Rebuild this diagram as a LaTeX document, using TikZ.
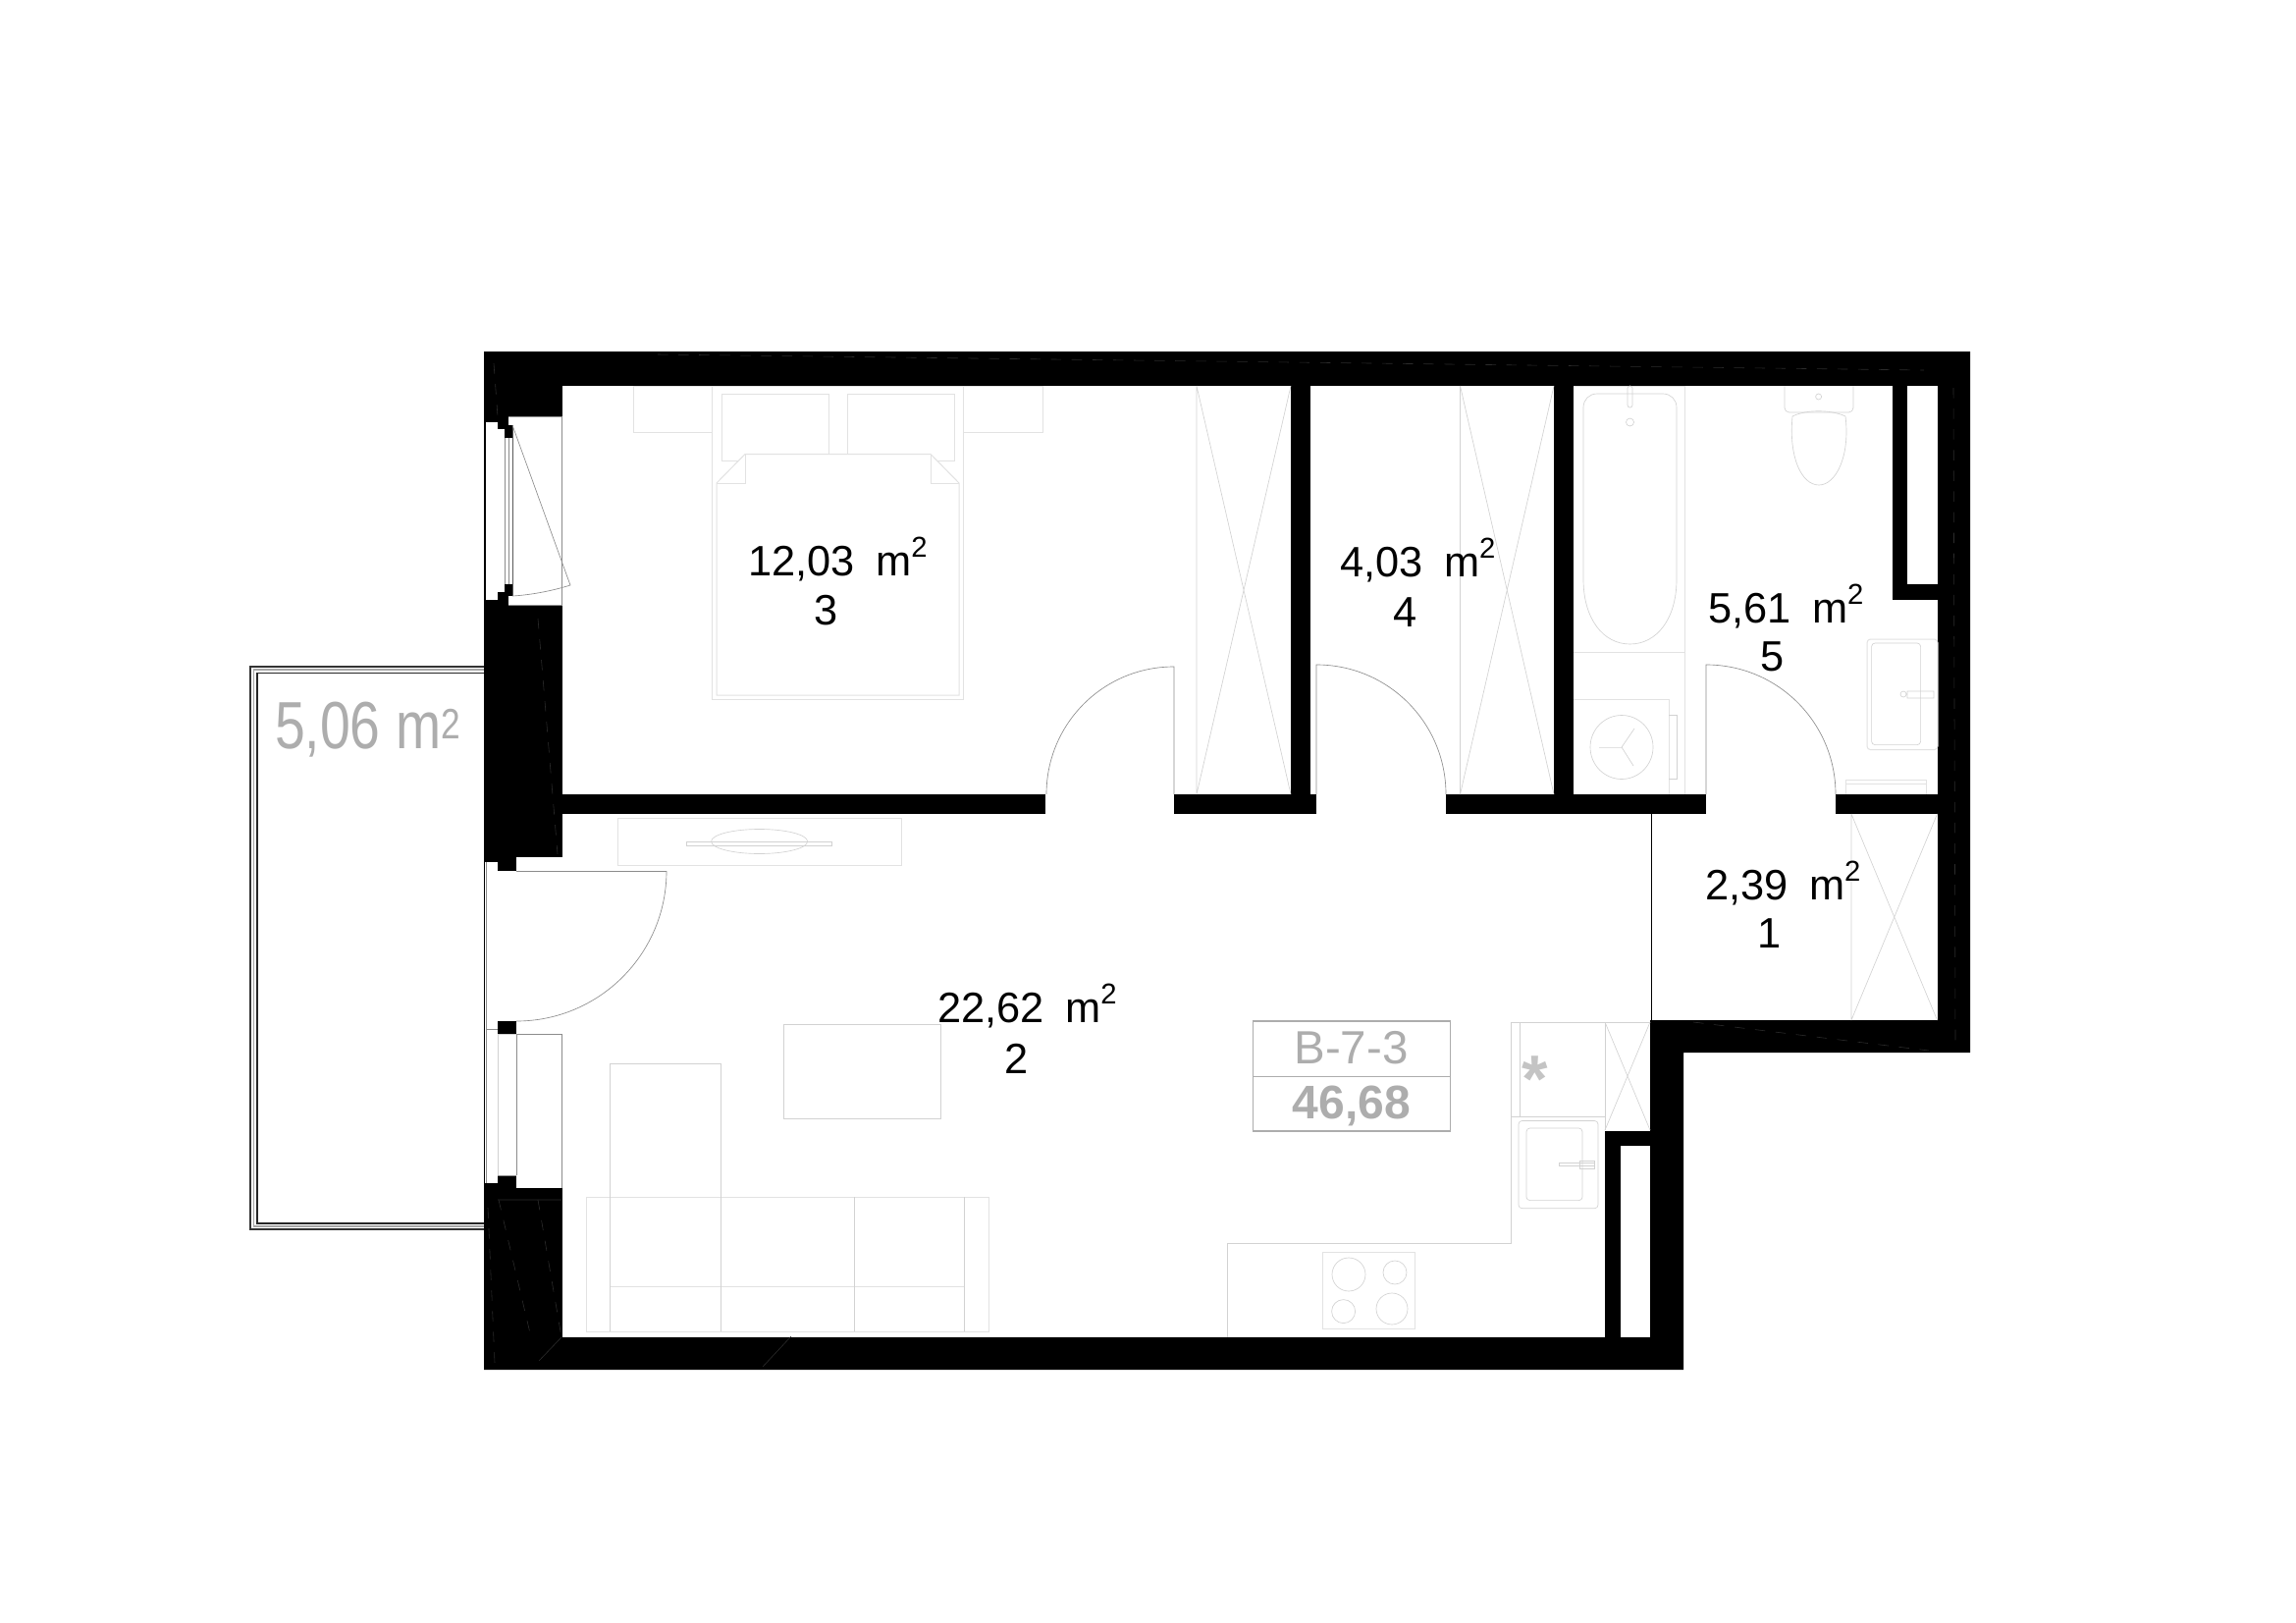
\documentclass[tikz,border=0pt]{standalone}
\usepackage{fontspec}
\usepackage{graphicx}
\setmainfont{Liberation Sans}
\definecolor{labelgrey}{HTML}{ADADAD}
\definecolor{starcol}{HTML}{C4C4C4}
\definecolor{furn}{HTML}{E2E2E2}
\definecolor{furnb}{HTML}{D2D2D2}
\definecolor{doorline}{HTML}{8C8C8C}
\definecolor{hair}{HTML}{2C2C2C}
\newcommand{\areatxt}[1]{\fontsize{37}{37}\selectfont #1\hspace{0.5em}m\raisebox{16pt}{\fontsize{25}{25}\selectfont 2}}
\tikzset{
  wall/.style={fill=black,draw=none},
  hole/.style={fill=white,draw=none},
  fitem/.style={draw=furn,line width=0.85pt,fill=none},
  fthin/.style={draw=furnb,line width=0.55pt,fill=none},
  door/.style={draw=doorline,line width=0.55pt,fill=none},
  hairline/.style={draw=hair,line width=0.5pt,dashed,dash pattern=on 9pt off 9pt},
  lbl/.style={inner sep=0pt,outer sep=0pt,text=black},
  num/.style={inner sep=0pt,outer sep=0pt,text=black,anchor=base,font=\fontsize{37}{37}\selectfont},
  glbl/.style={inner sep=0pt,outer sep=0pt,text=labelgrey},
}
\begin{document}
\begin{tikzpicture}[x=0.3mm,y=-0.3mm]
\useasboundingbox (0,0) rectangle (2339,1653);
\fill[white] (0,0) rectangle (2339,1653);

% balcony
\draw[draw=black!80,line width=1.5pt] (494,679) -- (255,679) -- (255,1252) -- (494,1252);
\draw[draw=black!35,line width=1.4pt] (494,682) -- (258.5,682) -- (258.5,1249) -- (494,1249);
\draw[draw=black!85,line width=0.9pt] (494,685.5) -- (262,685.5) -- (262,1246) -- (494,1246);

% walls
\fill[wall] (493,358) -- (2007,358) -- (2007,1072) -- (1715,1072) -- (1715,1395) -- (493,1395) -- cycle;
% interior cut-outs: rooms
\fill[hole] (573,393) rectangle (1315,809);
\fill[hole] (1335,393) rectangle (1583,809);
\fill[hole] (1603,393) rectangle (1974,809);
\fill[hole] (573,829) rectangle (1681,1362);
\fill[hole] (1681,829) rectangle (1974,1039);
% door openings
\fill[hole] (1065,800) rectangle (1196,835);
\fill[hole] (1341,800) rectangle (1473,835);
\fill[hole] (1738,800) rectangle (1870,835);
% west wall: bedroom window
\fill[hole] (518,424) rectangle (572.5,616);
\fill[hole] (495,430) rectangle (507,611);
\fill[hole] (507,437) rectangle (518,603);
\fill[wall] (514,433) rectangle (522,446);
\fill[wall] (514,595) rectangle (522,607);
\draw[door] (514,446) -- (514,595) (518,446) -- (518,595);
\draw[draw=black!65,line width=0.6pt] (522,433) -- (522,607);
\draw[door] (518,424) -- (572.5,424) -- (572.5,616) -- (518,616);
% west wall: balcony door and window
\fill[hole] (494,878) rectangle (507,1205);
\fill[hole] (507,887) rectangle (573,1197);
\fill[hole] (526,873) rectangle (573,1210);
\fill[wall] (507,873) rectangle (526,887);
\fill[wall] (507,1040) rectangle (526,1053);
\fill[wall] (507,1197) rectangle (526,1215);
\fill[wall] (526,1210) rectangle (573,1230);
\fill[wall] (494,1205) rectangle (507,1230);
\fill[hole] (573,873) rectangle (640,1210);
% shafts
\fill[wall] (1928,393) rectangle (1943,611);
\fill[wall] (1928,595) rectangle (1974,611);
\fill[wall] (1635,1151.5) rectangle (1651,1362);
\fill[wall] (1635,1151.5) rectangle (1681,1167);

% hair lines inside the walls
\draw[hairline] (670,361) -- (1960,377);
\draw[hairline] (1990,395) -- (1992,1060);
\draw[hairline] (503,370) -- (507,424);
\draw[hairline] (548,630) -- (568,870);
\draw[hairline] (497,1230) -- (504,1388);
\draw[hairline] (508,1222) -- (541,1362);
\draw[hairline] (548,1222) -- (572,1362);
\draw[hairline] (1725,1041) -- (1965,1070);
\draw[draw=hair,line width=0.5pt] (507,1222) -- (572,1222) (572,1362) -- (549,1386) (806,1361) -- (777,1392);

% thin black partition
\draw[draw=black,line width=0.8pt] (1682.4,829) -- (1682.4,1039);

% entrance door and west wall lines
\draw[door] (526,887) -- (679,887);
\draw[door] (679,887) .. controls (679,971.5) and (610.5,1040) .. (526,1040);
\draw[door] (495,878) -- (495,1205);
\draw[door] (495,1048) -- (507,1048);
\draw[door] (526,1053) -- (526,1197) (507,1197) -- (526,1197);
\draw[door] (526,1053) -- (572.5,1053) -- (572.5,1210);
\draw[fthin] (507,1053) -- (507,1197) (507,1053) -- (526,1053);

% bedroom window leaf
\draw[door] (522,433) -- (581,596) .. controls (562,602) and (540,606) .. (522,607);

% doors
\draw[door] (1196,809) -- (1196,679) .. controls (1124,679) and (1066,737) .. (1066,809);
\draw[door] (1341,809) -- (1341,677) .. controls (1414,677) and (1473,736) .. (1473,809);
\draw[door] (1738,809) -- (1738,677) .. controls (1811,677) and (1870,736) .. (1870,809);

% bed
\draw[fitem] (725.4,393) rectangle (981.7,712.5);
\draw[fitem] (725.4,393) -- (645,393) -- (645,440) -- (725.4,440);
\draw[fitem] (981.7,393) -- (1062,393) -- (1062,440) -- (981.7,440);
\draw[fitem] (735,401) rectangle (844,469);
\draw[fitem] (863,401) rectangle (972,469);
\draw[fitem,fill=white] (730,492) -- (759,462.5) -- (948,462.5) -- (977,492) -- (977,708) -- (730,708) -- cycle;
\draw[fitem] (730,492) -- (759,492) -- (759,462.5);
\draw[fitem] (977,492) -- (948,492) -- (948,462.5);

% closets
\draw[fthin] (1219,393) -- (1219,809) (1219,393) -- (1315,809) (1315,393) -- (1219,809);
\draw[fthin] (1487.5,393) -- (1487.5,809) (1487.5,393) -- (1583,809) (1583,393) -- (1487.5,809);
\draw[fthin] (1886,829) -- (1886,1039) (1886,829) -- (1973.5,1039) (1973.5,829) -- (1886,1039);
\draw[fthin] (1635,1041) -- (1681,1151) (1681,1041) -- (1635,1151);

% bathroom
\draw[fitem] (1603,393) -- (1716.6,393) -- (1716.6,809);
\draw[fitem] (1603,664) -- (1716.6,664);
\draw[fthin] (1627,401) -- (1694,401) .. controls (1702,401) and (1708,407) .. (1708,415) -- (1708,590) .. controls (1708,630) and (1688,656) .. (1660.5,656) .. controls (1633,656) and (1613,630) .. (1613,590) -- (1613,415) .. controls (1613,407) and (1619,401) .. (1627,401) -- cycle;
\draw[fthin,rounded corners=2pt] (1658,393) rectangle (1663,415);
\draw[fthin] (1660.5,430) circle[radius=4];
\draw[fitem] (1603,712.5) -- (1700,712.5) -- (1700,809);
\draw[fthin] (1652,761) circle[x radius=32,y radius=32.5];
\draw[fthin] (1652,761) -- (1665,742) (1652,761) -- (1664,780);
\draw[fitem] (1652,761) -- (1629,761);
\draw[fthin] (1700,728.6) -- (1708,728.6) -- (1708,793.6) -- (1700,793.6);
% toilet
\draw[fthin,rounded corners=4pt] (1818,393) -- (1818,420) -- (1888,420) -- (1888,393);
\draw[fthin] (1826,424) .. controls (1822,465) and (1835,494) .. (1853,494) .. controls (1870,494) and (1885,465) .. (1880,424) .. controls (1865,417) and (1840,417) .. cycle;
\draw[fthin] (1852.6,404) circle[radius=3];
% washbasin
\draw[fitem,rounded corners=3pt] (1902,651) rectangle (1974,763.6);
\draw[fthin,rounded corners=3pt] (1906.6,655) rectangle (1956.6,758.6);
\draw[fthin] (1939,707) circle[radius=3] (1943,704) rectangle (1970,711);
% radiator
\draw[fitem] (1880,809) -- (1880,794) -- (1962,794) -- (1962,809) (1880,798) -- (1962,798);

% television
\draw[fitem] (629,833) rectangle (918,881.4);
\draw[fthin] (773.6,857) circle[x radius=49,y radius=12.5];
\draw[fthin] (699,857) rectangle (847,861.4);

% table, chaise, sofa
\draw[fthin] (798,1043) rectangle (958.6,1139);
\draw[fthin] (621.4,1083) rectangle (734,1219);
\draw[fitem] (597,1219) rectangle (1007,1356);
\draw[fitem] (621.4,1310) -- (982,1310);
\draw[fthin] (621.4,1219) -- (621.4,1356) (734,1219) -- (734,1356) (870,1219) -- (870,1356) (982,1219) -- (982,1356);

% kitchen
\draw[fthin] (1250,1362) -- (1250,1266) -- (1539,1266) -- (1539,1041) -- (1681,1041);
\draw[fthin] (1548.5,1041) -- (1548.5,1137.5);
\draw[fthin] (1635,1041) -- (1635,1151);
\draw[fthin] (1539,1137.5) -- (1635,1137.5);
\draw[fthin,rounded corners=3pt] (1547,1141.5) rectangle (1628,1230.7);
\draw[fthin,rounded corners=3pt] (1555,1149) rectangle (1612,1222.6);
\draw[fthin] (1588.6,1184.5) rectangle (1624,1187.5) (1609,1182) rectangle (1624,1190);
\draw[fitem] (1347,1275) rectangle (1441,1353.6);
\draw[fthin] (1374,1298) circle[radius=17] (1421,1296) circle[radius=12] (1368.6,1335.6) circle[radius=12] (1418,1333) circle[radius=16];
\node[inner sep=0pt,outer sep=0pt,text=starcol,anchor=base,font=\bfseries\fontsize{58}{58}\selectfont] (star) at (1564,1122) {*};

% apartment tag
\draw[draw=labelgrey,line width=0.9pt] (1276.4,1040) rectangle (1477.5,1152);
\draw[draw=labelgrey,line width=0.9pt] (1276.4,1096.5) -- (1477.5,1096.5);
\node[glbl,anchor=base,font=\fontsize{40.5}{41}\selectfont] (tagname) at (1376.5,1083) {B-7-3};
\node[glbl,anchor=base,font=\bfseries\fontsize{41}{41}\selectfont] (tagarea) at (1377,1139.5) {46,68};

% room labels
\node[lbl,anchor=base west] (a3) at (762,586) {\areatxt{12,03}};
\node[num] (n3) at (841.5,636) {3};
\node[lbl,anchor=base west] (a4) at (1365,587) {\areatxt{4,03}};
\node[num] (n4) at (1432,638) {4};
\node[lbl,anchor=base west] (a5) at (1740,634) {\areatxt{5,61}};
\node[num] (n5) at (1805.6,683.5) {5};
\node[lbl,anchor=base west] (a1) at (1737,916.5) {\areatxt{2,39}};
\node[num] (n1) at (1803,965.5) {1};
\node[lbl,anchor=base west] (a2) at (955,1041.5) {\areatxt{22,62}};
\node[num] (n2) at (1035.5,1093) {2};
\node[glbl,anchor=base west] (balc) at (280,762) {\scalebox{0.815}[1]{\fontsize{58}{58}\selectfont 5,06 m\raisebox{8.5pt}{\fontsize{37}{37}\selectfont 2}}};
\end{tikzpicture}
\end{document}
